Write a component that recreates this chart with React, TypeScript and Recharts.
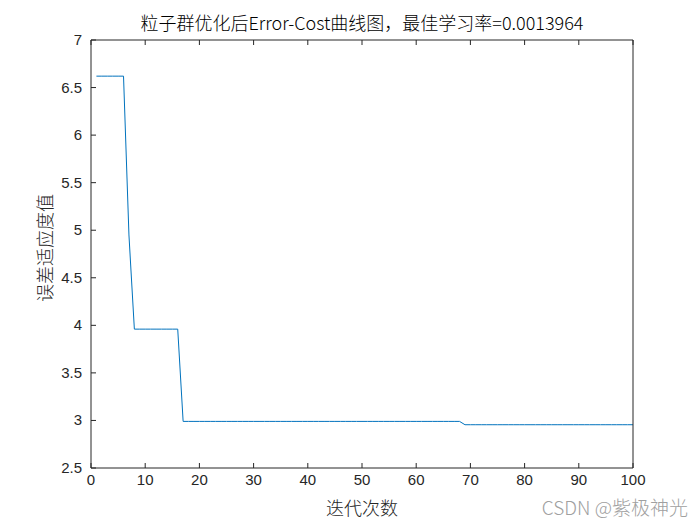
import React from "react";
import { LineChart, Line, XAxis, YAxis } from "recharts";

const iterations = Array.from({ length: 100 }, (_, i) => i + 1);

// best fitness per iteration
const errorCost = [
  6.62, 6.62, 6.62, 6.62, 6.62, 6.62, 4.95, 3.96, 3.96, 3.96,
  3.96, 3.96, 3.96, 3.96, 3.96, 3.96, 2.99, 2.99, 2.99, 2.99,
  2.99, 2.99, 2.99, 2.99, 2.99, 2.99, 2.99, 2.99, 2.99, 2.99,
  2.99, 2.99, 2.99, 2.99, 2.99, 2.99, 2.99, 2.99, 2.99, 2.99,
  2.99, 2.99, 2.99, 2.99, 2.99, 2.99, 2.99, 2.99, 2.99, 2.99,
  2.99, 2.99, 2.99, 2.99, 2.99, 2.99, 2.99, 2.99, 2.99, 2.99,
  2.99, 2.99, 2.99, 2.99, 2.99, 2.99, 2.99, 2.99, 2.955, 2.955,
  2.955, 2.955, 2.955, 2.955, 2.955, 2.955, 2.955, 2.955, 2.955, 2.955,
  2.955, 2.955, 2.955, 2.955, 2.955, 2.955, 2.955, 2.955, 2.955, 2.955,
  2.955, 2.955, 2.955, 2.955, 2.955, 2.955, 2.955, 2.955, 2.955, 2.955,
];

const xTicks = [0, 10, 20, 30, 40, 50, 60, 70, 80, 90, 100];
const yTicks = [2.5, 3, 3.5, 4, 4.5, 5, 5.5, 6, 6.5, 7];

const title = "粒子群优化后Error-Cost曲线图，最佳学习率=0.0013964";
const xLabel = "迭代次数";
const yLabel = "误差适应度值";
const watermark = "CSDN @紫极神光";

const data = iterations.map((it, i) => ({ it, cost: errorCost[i] }));

const INK = "#262626";
const TICK_LEN = 5;
const numFont = "'Liberation Sans', Arial, sans-serif";
const cjk = "'Noto Sans CJK SC', sans-serif";
const axisLine = { stroke: INK, strokeWidth: 1 };

// matlab style: tick marks point into the plot box
const BottomTick = (props: any) => {
  const { x, y, payload, labels } = props;
  const cx = payload.coordinate ?? x;
  return (
    <g>
      <line x1={cx} x2={cx} y1={468} y2={468 - TICK_LEN} stroke={INK} />
      {labels && (
        <text x={cx} y={y + 17} textAnchor="middle" fontSize={15} fill={INK} fontFamily={numFont}>
          {payload.value}
        </text>
      )}
    </g>
  );
};

const TopTick = (props: any) => {
  const { x, payload } = props;
  const cx = payload.coordinate ?? x;
  return <line x1={cx} x2={cx} y1={40} y2={40 + TICK_LEN} stroke={INK} />;
};

const LeftTick = (props: any) => {
  const { y, payload } = props;
  const cy = payload.coordinate ?? y;
  return (
    <g>
      <line x1={91} x2={91 + TICK_LEN} y1={cy} y2={cy} stroke={INK} />
      <text x={82} y={cy + 5} textAnchor="end" fontSize={15} fill={INK} fontFamily={numFont}>
        {payload.value}
      </text>
    </g>
  );
};

const RightTick = (props: any) => {
  const { y, payload } = props;
  const cy = payload.coordinate ?? y;
  return <line x1={633} x2={633 - TICK_LEN} y1={cy} y2={cy} stroke={INK} />;
};

const App: React.FC = () => {
  return (
    <div style={{ position: "absolute", left: 0, top: 0, width: 700, height: 525, background: "#fff" }}>
      <LineChart width={700} height={525} data={data} margin={{ top: 39, right: 66, bottom: 0, left: 0 }}>
        <XAxis
          dataKey="it"
          type="number"
          domain={[0, 100]}
          ticks={xTicks}
          height={57}
          tickLine={false}
          tickSize={0}
          tickMargin={0}
          tick={<BottomTick labels />}
          axisLine={axisLine}
        />
        <XAxis
          xAxisId="top"
          orientation="top"
          dataKey="it"
          type="number"
          domain={[0, 100]}
          ticks={xTicks}
          height={1}
          tickLine={false}
          tick={<TopTick />}
          axisLine={axisLine}
        />
        <YAxis
          type="number"
          domain={[2.5, 7]}
          ticks={yTicks}
          width={91}
          tickLine={false}
          tick={<LeftTick />}
          axisLine={axisLine}
        />
        <YAxis
          yAxisId="right"
          orientation="right"
          type="number"
          domain={[2.5, 7]}
          ticks={yTicks}
          width={1}
          tickLine={false}
          tick={<RightTick />}
          axisLine={axisLine}
        />
        <Line
          type="linear"
          dataKey="cost"
          stroke="#0072BD"
          strokeWidth={1}
          dot={false}
          isAnimationActive={false}
        />
      </LineChart>
      <div
        style={{
          position: "absolute", left: 91, width: 542, top: 9, textAlign: "center",
          fontFamily: cjk, fontSize: 18, fontWeight: 300, color: "#000", whiteSpace: "nowrap",
        }}
      >
        {title}
      </div>
      <div
        style={{
          position: "absolute", left: 91, width: 542, top: 494, textAlign: "center",
          fontFamily: cjk, fontSize: 18, fontWeight: 300, color: INK,
        }}
      >
        {xLabel}
      </div>
      <div
        style={{
          position: "absolute", left: 44, top: 248, transform: "translate(-50%, -50%) rotate(-90deg)",
          fontFamily: cjk, fontSize: 18, fontWeight: 300, color: INK, whiteSpace: "nowrap",
        }}
      >
        {yLabel}
      </div>
      <div
        style={{
          position: "absolute", right: 12, top: 493, fontFamily: cjk, fontSize: 19, fontWeight: 300,
          color: "#a0a0a0", whiteSpace: "nowrap",
        }}
      >
        {watermark}
      </div>
    </div>
  );
};

export default App;
